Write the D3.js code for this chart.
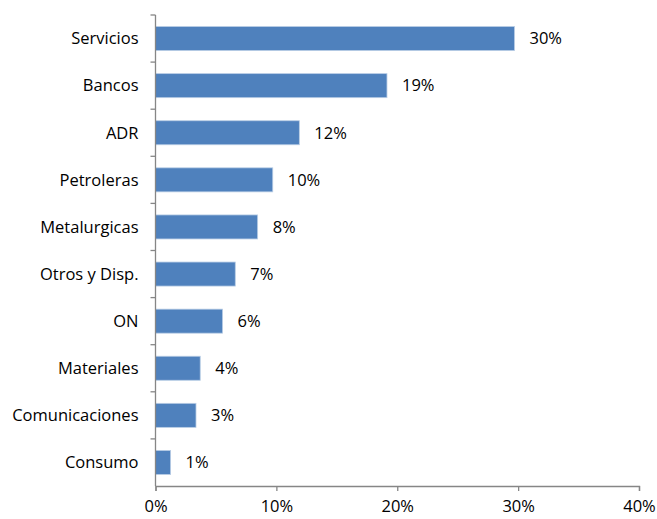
<!DOCTYPE html>
<html>
<head>
<meta charset="utf-8">
<script src="https://cdn.jsdelivr.net/npm/d3@7"></script>
<style>
  body { margin: 0; background: #fff; }
  svg text { font-family: "Open Sans", sans-serif; }
</style>
</head>
<body>
<div id="chart"></div>
<script>
const categories = ["Servicios", "Bancos", "ADR", "Petroleras", "Metalurgicas", "Otros y Disp.", "ON", "Materiales", "Comunicaciones", "Consumo"];
const values = [29.7, 19.15, 11.9, 9.7, 8.45, 6.6, 5.55, 3.7, 3.35, 1.25];
const valueLabels = ["30%", "19%", "12%", "10%", "8%", "7%", "6%", "4%", "3%", "1%"];
const xTicks = [0, 10, 20, 30, 40];

const W = 657, H = 519;
const margin = { top: 15, right: 18, bottom: 33, left: 155.5 };
const fontSize = "16.5px";

const svg = d3.select("#chart")
    .append("svg")
    .attr("width", W)
    .attr("height", H);

const g = svg.append("g")
    .attr("transform", `translate(${margin.left},${margin.top})`);

const width = W - margin.left - margin.right;
const height = H - margin.top - margin.bottom;

const x = d3.scaleLinear().domain([0, 40]).range([0, width]);
const y = d3.scaleBand().domain(categories).range([0, height]).paddingInner(0.49).paddingOuter(0.245);
const yAxisScale = d3.scaleBand().domain(categories).range([0, height]);

const data = categories.map((c, i) => ({ cat: c, v: values[i], label: valueLabels[i] }));

g.selectAll(".bar")
    .data(data)
    .enter()
    .append("rect")
    .attr("class", "bar")
    .attr("x", x(0))
    .attr("y", d => y(d.cat))
    .attr("width", d => x(d.v) - x(0))
    .attr("height", y.bandwidth())
    .attr("fill", "#4f81bd")
    .attr("stroke", "#b9cde5")
    .attr("stroke-width", 0.8);

g.selectAll(".val")
    .data(data)
    .enter()
    .append("text")
    .attr("class", "val")
    .attr("x", d => x(d.v) + 15)
    .attr("y", d => y(d.cat) + y.bandwidth() / 2)
    .attr("dy", "0.35em")
    .style("font-size", fontSize)
    .style("fill", "#000")
    .text(d => d.label);

// y axis: line with tick marks at band boundaries
const yAxis = g.append("g").attr("class", "y axis");
yAxis.append("line")
    .attr("x1", 0).attr("x2", 0)
    .attr("y1", 0).attr("y2", height)
    .attr("stroke", "#868686").attr("stroke-width", 1.3);
yAxis.selectAll(".ytick")
    .data(categories)
    .enter()
    .append("line")
    .attr("x1", -5).attr("x2", 0)
    .attr("y1", d => yAxisScale(d))
    .attr("y2", d => yAxisScale(d))
    .attr("stroke", "#868686").attr("stroke-width", 1.3);
yAxis.selectAll(".ylab")
    .data(categories)
    .enter()
    .append("text")
    .attr("x", -17)
    .attr("y", d => yAxisScale(d) + yAxisScale.bandwidth() / 2)
    .attr("dy", "0.35em")
    .attr("text-anchor", "end")
    .style("font-size", fontSize)
    .style("fill", "#000")
    .text(d => d);

// x axis
const xAxis = g.append("g")
    .attr("class", "x axis")
    .attr("transform", `translate(0,${height})`)
    .call(d3.axisBottom(x).tickValues(xTicks).tickSize(5).tickPadding(9).tickFormat(d => d + "%"));
xAxis.select(".domain").attr("stroke", "#868686").attr("stroke-width", 1.3);
xAxis.selectAll(".tick line").attr("stroke", "#868686").attr("stroke-width", 1.3);
xAxis.selectAll(".tick text")
    .style("font-size", fontSize)
    .style("font-family", "'Open Sans', sans-serif")
    .style("fill", "#000");
</script>
</body>
</html>
